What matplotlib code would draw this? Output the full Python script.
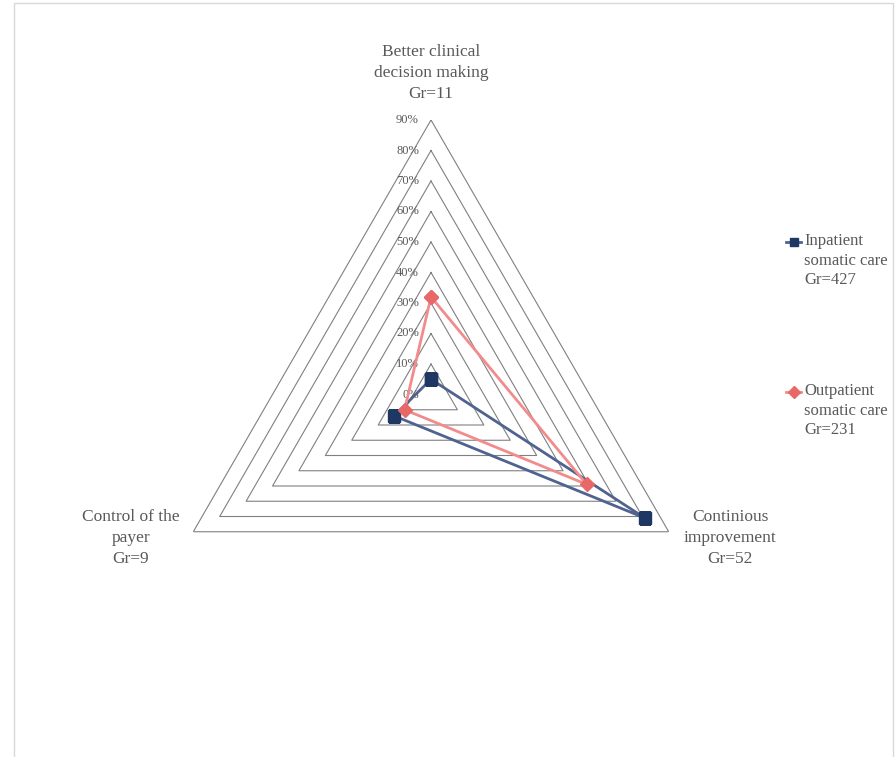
import numpy as np
import matplotlib.pyplot as plt
from matplotlib.lines import Line2D
from matplotlib.patches import Rectangle
from matplotlib.transforms import offset_copy

# Radar data (share of respondents per purpose)
categories = ['Better clinical\ndecision making\nGr=11',
              'Continious\nimprovement\nGr=52',
              'Control of the\npayer\nGr=9']
inpatient = [0.05, 0.81, 0.14]
outpatient = [0.32, 0.59, 0.10]
series_names = ['Inpatient\nsomatic care\nGr=427', 'Outpatient\nsomatic care\nGr=231']
levels = [0.0, 0.1, 0.2, 0.3, 0.4, 0.5, 0.6, 0.7, 0.8, 0.9]
level_labels = ['0%', '10%', '20%', '30%', '40%', '50%', '60%', '70%', '80%', '90%']

plt.rcParams['font.family'] = ['Liberation Serif', 'DejaVu Serif']
text_color = '#595959'
grid_color = '#808080'
in_line, in_mark = '#4f6290', '#1f3763'
out_line, out_mark = '#f28b8b', '#e86767'

W, H = 896, 757
fig = plt.figure(figsize=(W / 100, H / 100), dpi=100)
fig.patch.set_facecolor('white')

# polar axes centred at (431, 394.5) px with 90% at 274.5 px
cx, cy, R = 431, 394.5, 274.5
ax = fig.add_axes([(cx - R) / W, (H - cy - R) / H, 2 * R / W, 2 * R / H], projection='polar')
ax.set_theta_offset(np.pi / 2)
ax.set_theta_direction(-1)
ax.set_ylim(0, 0.9)
ax.grid(False)
ax.set_xticks([])
ax.set_yticks([])
ax.spines['polar'].set_visible(False)
ax.patch.set_alpha(0)

n = len(categories)
angles = [2 * np.pi * i / n for i in range(n)]
closed = angles + angles[:1]

# triangular gridlines
for lvl in levels[1:]:
    ax.plot(closed, [lvl] * (n + 1), color=grid_color, lw=0.8, zorder=1)

# percentage labels along the top spoke
lab_tr = offset_copy(ax.transData, fig=fig, x=-12, y=0, units='dots')
for lvl, lab in zip(levels, level_labels):
    ax.text(0, lvl, lab, transform=lab_tr, ha='right', va='center',
            fontsize=9, color=text_color, zorder=2)

ax.plot(closed, inpatient + inpatient[:1], color=in_line, lw=2,
        marker='s', ms=8, mfc=in_mark, mec=in_mark, zorder=3)
ax.plot(closed, outpatient + outpatient[:1], color=out_line, lw=2,
        marker='D', ms=7, mfc=out_mark, mec=out_mark, zorder=4)

# category labels
cat_pos = [(431, 73), (730, 538), (131, 538)]
for (px, py), cat in zip(cat_pos, categories):
    fig.text(px / W, 1 - py / H, cat, ha='center', va='center',
             fontsize=12.5, color=text_color, linespacing=1.4)

# legend on the right
leg_y = [242, 392]
styles = [(in_line, in_mark, 's', 6), (out_line, out_mark, 'D', 6)]
for ly, name, (lc, mc, mk, ms) in zip(leg_y, series_names, styles):
    yy = 1 - ly / H
    fig.add_artist(Line2D([786 / W, 793.5 / W, 801 / W], [yy] * 3, transform=fig.transFigure,
                          color=lc, lw=2, marker=mk, ms=ms, mfc=mc, mec=mc, markevery=[1]))
    fig.text(804 / W, yy + 9 / H, name, ha='left', va='top',
             fontsize=12, color=text_color, linespacing=1.3)

# chart area border
fig.add_artist(Rectangle((14 / W, -0.05), (893 - 14) / W, 1.05 - 3 / H,
                         transform=fig.transFigure, fill=False, ec='#d9d9d9', lw=1))

fig.savefig('out.png', dpi=100, facecolor='white')
